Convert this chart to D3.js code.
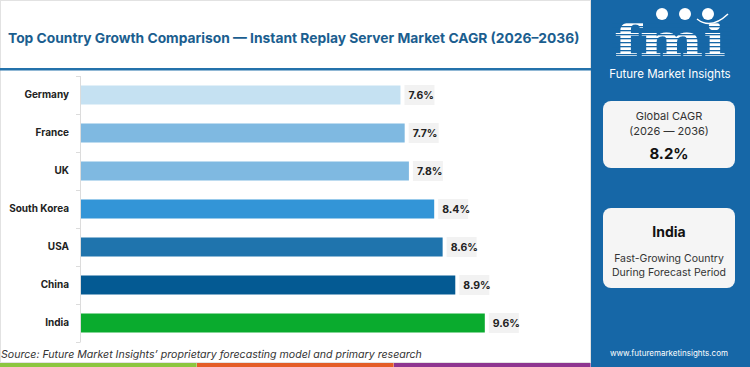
<!DOCTYPE html>
<html>
<head>
<meta charset="utf-8">
<script src="https://cdn.jsdelivr.net/npm/d3@7"></script>
<style>
  body { margin: 0; background: #fff; }
  svg { display: block; font-family: "Inter", "Noto Sans", sans-serif; }
</style>
</head>
<body>
<svg width="750" height="367"></svg>
<script>
// chart data
var countries = ["Germany", "France", "UK", "South Korea", "USA", "China", "India"];
var cagr = [7.6, 7.7, 7.8, 8.4, 8.6, 8.9, 9.6];
var barColors = ["#c5e1f2", "#7fb9e1", "#7fb9e1", "#3395d7", "#1f74ad", "#045a93", "#0aab2e"];
var stripColors = ["#8cc63f", "#e45d27", "#8e3590"];

var svg = d3.select("svg");
var W = 750, H = 367;
var panelX = 591;

// chart box
svg.append("rect")
    .attr("x", 0.5).attr("y", 0.5)
    .attr("width", panelX - 1).attr("height", 362)
    .attr("fill", "#fff").attr("stroke", "#e2e2e2");

// title, shrunk to fit the space left of the panel
var title = svg.append("text")
    .attr("x", 8).attr("y", 43)
    .attr("fill", "#1b5e8f")
    .attr("font-size", "17px")
    .attr("font-weight", 700)
    .text("Top Country Growth Comparison \u2014 Instant Replay Server Market CAGR (2026\u20132036)");
var tw = title.node().getComputedTextLength();
if (tw > 572) title.attr("font-size", (17 * 572 / tw).toFixed(2) + "px");

svg.append("rect")
    .attr("x", 0).attr("y", 68)
    .attr("width", panelX).attr("height", 2.5)
    .attr("fill", "#2472ab");

var x = d3.scaleLinear().domain([0, 12]).range([80, 586]);
var y = d3.scaleBand().domain(countries).range([76, 342])
    .paddingInner(0.5).paddingOuter(0.25);

var data = countries.map(function(c, i) { return {name: c, value: cagr[i], color: barColors[i]}; });

// axis line + boundary ticks
var g = svg.append("g");
g.append("line")
    .attr("x1", 80.5).attr("x2", 80.5)
    .attr("y1", 76).attr("y2", 342)
    .attr("stroke", "#dcdcdc");
var edges = d3.range(countries.length + 1).map(function(i) { return 76 + i * y.step(); });
g.selectAll(".edge").data(edges).enter().append("line")
    .attr("class", "edge")
    .attr("x1", 76).attr("x2", 80.5)
    .attr("y1", function(d) { return d + 0.5; })
    .attr("y2", function(d) { return d + 0.5; })
    .attr("stroke", "#dcdcdc");

// country labels
var yAxis = svg.append("g")
    .attr("transform", "translate(80,0)")
    .call(d3.axisLeft(y).tickSize(0).tickPadding(11));
yAxis.select(".domain").remove();
yAxis.selectAll("text")
    .attr("fill", "#222")
    .attr("font-size", "10px")
    .attr("font-weight", 700)
    .attr("font-family", "Inter, sans-serif");

// bars
svg.selectAll(".bar").data(data).enter().append("rect")
    .attr("class", "bar")
    .attr("x", x(0) + 1)
    .attr("y", function(d) { return y(d.name); })
    .attr("width", function(d) { return x(d.value) - x(0) - 1; })
    .attr("height", y.bandwidth())
    .attr("fill", function(d) { return d.color; });

// value labels
var lab = svg.selectAll(".lab").data(data).enter().append("g").attr("class", "lab");
lab.append("rect")
    .attr("x", function(d) { return x(d.value) + 4; })
    .attr("y", function(d) { return y(d.name) - 0.5; })
    .attr("width", 30).attr("height", 20)
    .attr("fill", "#f2f2f2");
lab.append("text")
    .attr("x", function(d) { return x(d.value) + 8; })
    .attr("y", function(d) { return y(d.name) + y.bandwidth() / 2; })
    .attr("dy", "0.35em")
    .attr("fill", "#222")
    .attr("font-size", "10.5px")
    .attr("font-weight", 700)
    .text(function(d) { return d.value.toFixed(1) + "%"; });

// source
svg.append("text")
    .attr("x", 1).attr("y", 358)
    .attr("fill", "#333")
    .attr("font-size", "10.6px")
    .attr("font-style", "italic")
    .text("Source: Future Market Insights\u2019 proprietary forecasting model and primary research");

// bottom colour strip
var segW = 590 / 3;
svg.selectAll(".strip").data(stripColors).enter().append("rect")
    .attr("x", function(d, i) { return i * (segW + 0.3); })
    .attr("y", 363).attr("width", segW).attr("height", 4)
    .attr("fill", function(d) { return d; });

// right panel
var panel = svg.append("g");
panel.append("rect")
    .attr("x", panelX).attr("y", 0)
    .attr("width", W - panelX).attr("height", H)
    .attr("fill", "#1667a7");

// logo
var logo = panel.append("g");
logo.append("text")
    .attr("x", 614).attr("y", 56)
    .attr("fill", "#fff")
    .attr("font-family", "DejaVu Serif, serif")
    .attr("font-weight", 700)
    .attr("font-size", "44px")
    .attr("textLength", 112)
    .attr("lengthAdjust", "spacingAndGlyphs")
    .text("fmi");
logo.selectAll(".stripe").data(d3.range(22, 58, 4)).enter().append("rect")
    .attr("x", 612).attr("y", function(d) { return d; })
    .attr("width", 120).attr("height", 1.3)
    .attr("fill", "#1667a7");
logo.selectAll(".dot").data([662, 685, 708]).enter().append("circle")
    .attr("cx", function(d) { return d; }).attr("cy", 14)
    .attr("r", 6).attr("fill", "#fff");
logo.append("path")
    .attr("d", "M697,19 Q711,30 728,14")
    .attr("fill", "none").attr("stroke", "#fff").attr("stroke-width", 1.5);
logo.append("text")
    .attr("x", 670).attr("y", 78)
    .attr("text-anchor", "middle")
    .attr("fill", "#fff")
    .attr("font-size", "11.5px")
    .text("Future Market Insights");

// info boxes
panel.append("rect")
    .attr("x", 603).attr("y", 101).attr("width", 132).attr("height", 67)
    .attr("rx", 8).attr("fill", "#f5f5f5");
panel.append("text")
    .attr("x", 669).attr("y", 120).attr("text-anchor", "middle")
    .attr("fill", "#333").attr("font-size", "11px")
    .text("Global CAGR");
panel.append("text")
    .attr("x", 669).attr("y", 135).attr("text-anchor", "middle")
    .attr("fill", "#333").attr("font-size", "11px")
    .text("(2026 \u2014 2036)");
panel.append("text")
    .attr("x", 669).attr("y", 159).attr("text-anchor", "middle")
    .attr("fill", "#111").attr("font-size", "15px").attr("font-weight", 700)
    .text("8.2%");

panel.append("rect")
    .attr("x", 603).attr("y", 208).attr("width", 132).attr("height", 80)
    .attr("rx", 8).attr("fill", "#f5f5f5");
panel.append("text")
    .attr("x", 669).attr("y", 237).attr("text-anchor", "middle")
    .attr("fill", "#111").attr("font-size", "14px").attr("font-weight", 700)
    .text("India");
panel.append("text")
    .attr("x", 669).attr("y", 262).attr("text-anchor", "middle")
    .attr("fill", "#333").attr("font-size", "10.5px")
    .text("Fast-Growing Country");
panel.append("text")
    .attr("x", 669).attr("y", 276).attr("text-anchor", "middle")
    .attr("fill", "#333").attr("font-size", "10.5px")
    .text("During Forecast Period");

panel.append("text")
    .attr("x", 669).attr("y", 356).attr("text-anchor", "middle")
    .attr("fill", "#fff").attr("font-size", "8px")
    .text("www.futuremarketinsights.com");
</script>
</body>
</html>
